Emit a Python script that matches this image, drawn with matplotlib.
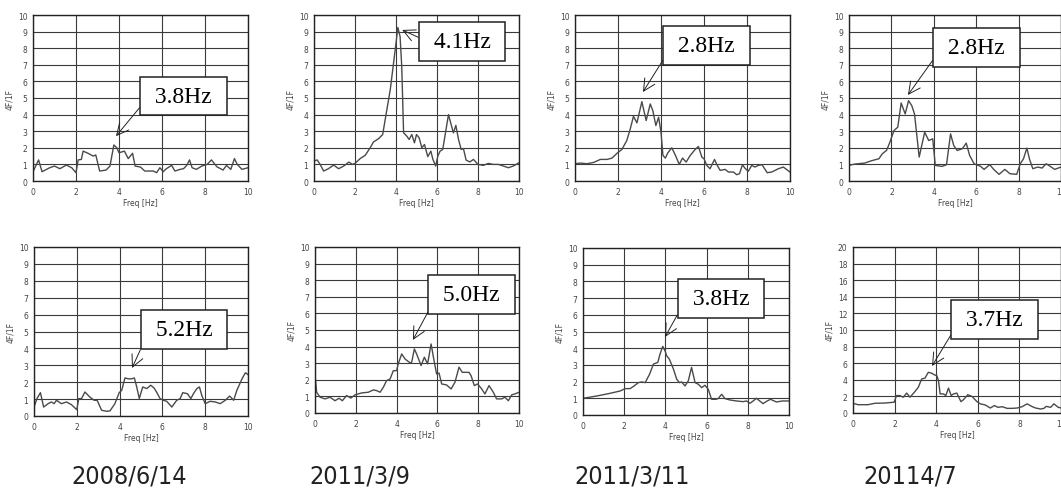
import matplotlib
matplotlib.use('Agg')
import matplotlib.pyplot as plt
from matplotlib import font_manager

# ---- data (freq in Hz, spectral ratio 4F/1F) ----
f_2008_0614 = [0, 0.26, 0.42, 0.78, 1.0, 1.25, 1.55, 1.8, 2.0, 2.1, 2.25, 2.33, 2.56, 2.8, 2.92, 3.1, 3.4, 3.58,
               3.76, 3.9, 4.0, 4.25, 4.43, 4.63, 4.75, 5.0, 5.2, 5.6, 5.75, 5.9, 6.06, 6.2, 6.45, 6.6, 6.84, 7.0,
               7.15, 7.28, 7.4, 7.6, 7.85, 8.1, 8.3, 8.55, 8.84, 9.0, 9.2, 9.37, 9.5, 9.72, 10]
r_2008_0614 = [0.56, 1.27, 0.56, 0.8, 0.9, 0.74, 0.96, 0.8, 0.5, 1.27, 1.3, 1.8, 1.67, 1.5, 1.57, 0.6, 0.66, 0.9,
               2.17, 2.0, 1.7, 1.8, 1.35, 1.67, 0.9, 0.84, 0.6, 0.6, 0.5, 0.8, 0.56, 0.74, 0.94, 0.6, 0.7, 0.74,
               0.94, 1.27, 0.8, 0.7, 0.9, 1.0, 1.27, 0.86, 0.66, 0.94, 0.7, 1.35, 1.0, 0.7, 0.8]

f_2011_0309a = [0, 0.15, 0.3, 0.47, 0.7, 0.96, 1.2, 1.45, 1.7, 1.88, 2.0, 2.25, 2.5, 2.74, 2.9, 3.15, 3.35, 3.5,
                3.72, 3.88, 4.0, 4.09, 4.2, 4.28, 4.37, 4.53, 4.64, 4.77, 4.9, 5.0, 5.13, 5.26, 5.39, 5.55, 5.7,
                5.8, 5.94, 6.04, 6.15, 6.28, 6.4, 6.56, 6.69, 6.8, 6.92, 7.05, 7.18, 7.29, 7.42, 7.6, 7.78, 8.0,
                8.26, 8.5, 8.75, 9.0, 9.24, 9.48, 9.72, 10]
r_2011_0309a = [1.2, 1.27, 1.0, 0.6, 0.74, 0.96, 0.74, 0.9, 1.14, 1.0, 1.06, 1.35, 1.55, 2.0, 2.35, 2.55, 2.8, 3.9,
                5.5, 7.1, 8.3, 9.25, 8.7, 6.9, 2.9, 2.7, 2.5, 2.8, 2.3, 2.8, 2.6, 2.0, 2.2, 1.47, 1.8,
                1.3, 0.9, 1.5, 1.8, 1.9, 2.8, 4.0, 3.4, 2.9, 3.35, 2.5, 1.9, 1.95, 1.26, 1.15, 1.3, 1.0,
                0.94, 1.06, 1.0, 1.0, 0.9, 0.8, 0.9, 1.1]

f_2011_0311a = [0, 0.25, 0.56, 0.87, 1.18, 1.49, 1.72, 1.98, 2.18, 2.41, 2.57, 2.72, 2.88, 3.11, 3.31, 3.5, 3.62,
                3.76, 3.89, 4.0, 4.09, 4.2, 4.32, 4.5, 4.66, 4.85, 5.0, 5.17, 5.36, 5.59, 5.74, 5.9, 6.0, 6.13,
                6.28, 6.49, 6.6, 6.75, 6.98, 7.14, 7.37, 7.52, 7.65, 7.79, 7.9, 8.06, 8.22, 8.37, 8.53, 8.7,
                8.94, 9.15, 9.46, 9.69, 10]
r_2011_0311a = [1.04, 1.08, 1.04, 1.12, 1.3, 1.3, 1.38, 1.7, 1.9, 2.44, 3.14, 3.9, 3.5, 4.78, 3.64, 4.64, 4.24,
                3.34, 3.84, 2.94, 1.54, 1.38, 1.7, 2.0, 1.58, 1.0, 1.38, 1.14, 1.54, 1.9, 2.08, 1.44, 1.34, 0.94,
                0.74, 1.3, 0.98, 0.64, 0.7, 0.54, 0.54, 0.38, 0.44, 0.98, 0.78, 0.58, 0.94, 0.84, 0.94, 0.98,
                0.5, 0.54, 0.74, 0.84, 0.54]

f_2011_0407a = [0, 0.27, 0.74, 1.06, 1.41, 1.57, 1.77, 1.93, 2.12, 2.3, 2.46, 2.65, 2.81, 2.96, 3.09, 3.31, 3.57,
                3.76, 3.95, 4.07, 4.39, 4.6, 4.79, 4.94, 5.1, 5.34, 5.53, 5.69, 5.9, 6.21, 6.37, 6.64, 6.84,
                7.08, 7.35, 7.59, 7.91, 8.08, 8.23, 8.39, 8.51, 8.67, 8.9, 9.11, 9.3, 9.54, 9.7, 10]
r_2011_0407a = [0.94, 1.02, 1.08, 1.22, 1.34, 1.64, 1.84, 2.34, 3.04, 3.24, 4.7, 4.04, 4.84, 4.54, 4.04, 1.44, 2.94,
                2.44, 2.54, 0.94, 0.88, 0.98, 2.84, 2.14, 1.84, 1.94, 2.28, 1.54, 1.04, 0.88, 0.7, 0.98, 0.68,
                0.4, 0.7, 0.44, 0.4, 1.04, 1.34, 1.98, 1.34, 0.74, 0.84, 0.78, 1.04, 0.84, 0.7, 0.84]

f_2008_0614b = [0, 0.14, 0.3, 0.45, 0.66, 0.81, 0.94, 1.05, 1.28, 1.52, 1.75, 2.0, 2.09, 2.22, 2.38, 2.61, 2.81,
                2.95, 3.16, 3.39, 3.55, 3.78, 3.98, 4.1, 4.25, 4.41, 4.56, 4.69, 4.8, 4.92, 5.08, 5.27, 5.45,
                5.61, 5.77, 5.89, 6.05, 6.2, 6.44, 6.67, 6.83, 6.95, 7.17, 7.33, 7.45, 7.61, 7.73, 7.84, 8.0,
                8.23, 8.47, 8.7, 8.94, 9.14, 9.33, 9.48, 9.72, 9.88, 10]
r_2008_0614b = [0.53, 1.03, 1.38, 0.53, 0.73, 0.83, 0.73, 0.93, 0.73, 0.83, 0.67, 0.37, 1.03, 1.03, 1.42, 1.12, 0.93,
                0.93, 0.34, 0.28, 0.3, 0.73, 1.38, 1.52, 2.25, 2.2, 2.2, 2.25, 1.72, 1.03, 1.72, 1.62, 1.82,
                1.66, 1.32, 1.03, 0.93, 0.87, 0.53, 0.93, 1.03, 1.38, 1.32, 1.03, 1.32, 1.62, 1.72, 1.22, 0.73,
                0.87, 0.83, 0.73, 0.93, 1.18, 0.93, 1.52, 2.2, 2.56, 2.45]

f_2011_0309b = [0, 0.08, 0.25, 0.49, 0.74, 0.98, 1.18, 1.34, 1.55, 1.76, 1.96, 2.29, 2.61, 2.86, 3.02, 3.19, 3.35,
                3.51, 3.68, 3.84, 4.0, 4.08, 4.25, 4.41, 4.66, 4.74, 4.87, 4.98, 5.2, 5.36, 5.52, 5.69, 5.85,
                5.96, 6.08, 6.21, 6.45, 6.67, 6.86, 7.06, 7.22, 7.39, 7.55, 7.65, 7.81, 7.97, 8.17, 8.33, 8.53,
                8.74, 8.9, 9.15, 9.31, 9.48, 9.64, 9.8, 10]
r_2011_0309b = [2.3, 1.25, 0.95, 0.85, 0.95, 0.74, 0.89, 0.74, 1.05, 0.9, 1.09, 1.21, 1.25, 1.39, 1.35, 1.25, 1.55,
                1.95, 2.05, 2.55, 2.55, 2.96, 3.56, 3.26, 3.02, 3.06, 3.86, 3.56, 2.86, 3.36, 2.96, 4.16, 3.06,
                2.35, 2.41, 1.75, 1.69, 1.45, 1.85, 2.76, 2.45, 2.45, 2.45, 2.25, 1.65, 1.75, 1.45, 1.15, 1.65,
                1.25, 0.85, 0.85, 0.95, 0.74, 1.09, 1.15, 1.25]

f_2011_0311b = [0, 0.68, 1.32, 1.81, 2.05, 2.29, 2.48, 2.69, 2.85, 3.02, 3.23, 3.42, 3.63, 3.74, 3.87, 3.98, 4.06,
                4.19, 4.39, 4.55, 4.68, 4.79, 4.95, 5.11, 5.27, 5.44, 5.6, 5.76, 5.92, 6.08, 6.24, 6.45, 6.56,
                6.73, 6.89, 7.13, 7.45, 7.77, 7.94, 8.1, 8.26, 8.42, 8.58, 8.74, 8.94, 9.1, 9.39, 9.68, 10]
r_2011_0311b = [1.0, 1.14, 1.3, 1.44, 1.58, 1.58, 1.74, 1.94, 1.98, 1.94, 2.44, 3.05, 3.15, 3.65, 4.11, 3.85, 3.55,
                3.35, 2.75, 2.14, 1.94, 1.98, 1.74, 2.04, 2.85, 1.94, 1.84, 1.64, 1.78, 1.54, 0.94, 0.94, 0.98,
                1.24, 0.98, 0.9, 0.84, 0.8, 0.84, 0.7, 0.84, 1.0, 0.84, 0.68, 0.84, 0.94, 0.78, 0.84, 0.84]

f_2011_0407b = [0, 0.24, 0.72, 1.05, 1.53, 1.98, 2.09, 2.25, 2.42, 2.58, 2.74, 2.95, 3.14, 3.3, 3.46, 3.62, 3.78,
                3.91, 4.03, 4.11, 4.19, 4.35, 4.46, 4.59, 4.72, 4.83, 4.99, 5.19, 5.31, 5.52, 5.72, 5.96, 6.12,
                6.36, 6.6, 6.8, 6.97, 7.17, 7.41, 7.65, 7.89, 8.13, 8.37, 8.62, 8.78, 9.02, 9.18, 9.29, 9.5,
                9.66, 9.87, 10.03]
r_2011_0407b = [1.17, 1.0, 1.0, 1.17, 1.2, 1.3, 2.1, 2.1, 1.9, 2.4, 1.9, 2.5, 3.1, 4.1, 4.2, 4.9, 4.8,
                4.6, 4.5, 3.9, 2.3, 2.3, 2.1, 3.0, 2.1, 2.3, 2.4, 1.37, 1.6, 2.2, 2.0, 1.37, 1.1,
                0.97, 0.6, 0.9, 0.68, 0.76, 0.56, 0.56, 0.6, 0.76, 1.1, 0.76, 0.6, 0.48, 0.56, 0.8, 0.68,
                1.1, 0.68, 0.6]

freqs = [f_2008_0614, f_2011_0309a, f_2011_0311a, f_2011_0407a,
         f_2008_0614b, f_2011_0309b, f_2011_0311b, f_2011_0407b]
ratios = [r_2008_0614, r_2011_0309a, r_2011_0311a, r_2011_0407a,
          r_2008_0614b, r_2011_0309b, r_2011_0311b, r_2011_0407b]
y_max = [10, 10, 10, 10, 10, 10, 10, 20]

# peak annotation: label, arrow tip (x, y), box centre (x, y)
peak_labels = ['3.8Hz', '4.1Hz', '2.8Hz', '2.8Hz', '5.2Hz', '5.0Hz', '3.8Hz', '3.7Hz']
peak_tip = [(3.86, 2.7), (4.3, 9.1), (3.16, 5.36), (2.78, 5.18),
            (4.58, 2.84), (4.8, 4.4), (3.98, 4.67), (3.8, 5.66)]
box_centre = [(7.0, 5.12), (7.22, 8.4), (6.12, 8.18), (6.01, 8.07),
              (7.0, 5.1), (7.68, 7.14), (6.7, 7.0), (6.8, 11.25)]

dates = ['2008/6/14', '2011/3/9', '2011/3/11', '20114/7']
date_x = [129, 360, 632, 910]

# axes boxes in pixels: left, top, right, bottom
W, H = 1061, 489
boxes = [(33, 16, 248, 182), (314, 16, 519, 182), (575, 16, 790, 182), (849, 16, 1061, 182),
         (34, 248, 248, 417), (315, 248, 519, 414), (583, 249, 789, 416), (853, 248, 1061, 414)]

# narrow sans for the dates if one is installed
date_font = None
for f in font_manager.fontManager.ttflist:
    if f.stretch in ('condensed', 'semi-condensed', 'extra-condensed') or \
            'Narrow' in f.name or 'Condensed' in f.fname:
        if f.style == 'normal' and f.weight in (400, 'normal', 'regular'):
            date_font = font_manager.FontProperties(fname=f.fname, size=18)
            break
if date_font is None:
    date_font = font_manager.FontProperties(family='Liberation Sans', size=15)

fig = plt.figure(figsize=(W / 100, H / 100), dpi=100)
fig.patch.set_facecolor('white')

for i in range(8):
    l, t, r, b = boxes[i]
    ax = fig.add_axes([l / W, (H - b) / H, (r - l) / W, (b - t) / H])
    ax.plot(freqs[i], ratios[i], color='#4a4a4a', lw=1.0)
    ax.set_xlim(0, 10)
    ax.set_ylim(0, y_max[i])
    ax.set_xticks(range(0, 11, 2))
    step = 2 if y_max[i] == 20 else 1
    ax.set_yticks(range(0, y_max[i] + 1, step))
    ax.grid(True, color='#3a3a3a', lw=0.8)
    ax.set_axisbelow(True)
    for s in ax.spines.values():
        s.set_color('#222222')
        s.set_linewidth(1.0)
    ax.tick_params(length=0, labelsize=5.5, labelcolor='#444444', pad=4)
    ax.set_ylabel('4F/1F', fontsize=5.5, color='#444444', labelpad=3)
    ax.set_xlabel('Freq [Hz]', fontsize=5.5, color='#444444', labelpad=1.5)
    ax.annotate(' ' + peak_labels[i] + ' ', xy=peak_tip[i], xytext=box_centre[i],
                ha='center', va='center', fontsize=17, family='Liberation Serif',
                bbox=dict(boxstyle='square,pad=0.38', fc='white', ec='#222222', lw=1.1),
                arrowprops=dict(arrowstyle='->,head_length=0.5,head_width=0.25', color='#222222',
                                lw=0.7, relpos=(0, 0.5), shrinkA=0, shrinkB=0))

for d, x in zip(dates, date_x):
    fig.text(x / W, 1 - 484 / H, d, ha='center', va='baseline',
             fontproperties=date_font, color='#222222')

fig.savefig('out.png', dpi=100, facecolor='white')
